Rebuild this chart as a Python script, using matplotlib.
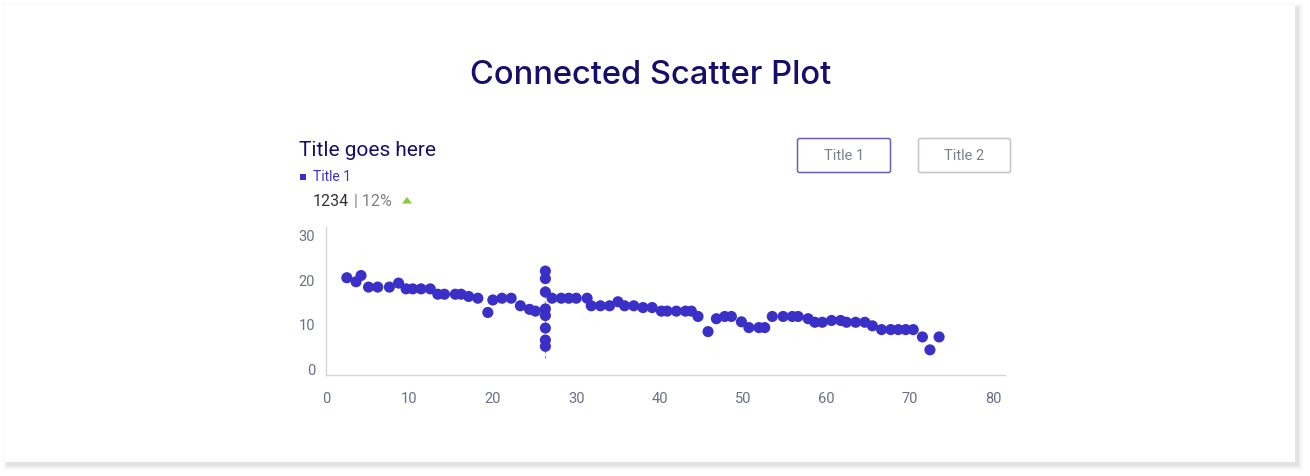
import numpy as np
import matplotlib.pyplot as plt
from matplotlib.patches import Rectangle, FancyBboxPatch, Polygon

# puntos
x_vals = [2.5, 3.6, 4.2, 5.1, 6.2, 7.6, 8.7, 9.6, 10.4, 11.4, 12.5, 13.4, 14.2, 15.5, 16.2,
          17.1, 18.2, 19.4, 20.0, 21.1, 22.2, 23.3, 24.4, 25.1,
          26.3, 26.3, 26.3, 26.3, 26.3, 26.3, 26.3, 26.3,
          27.1, 28.2, 29.1, 30.0, 31.3, 31.8, 32.9, 34.0, 35.0, 35.8, 36.9, 38.0, 39.1,
          40.2, 40.9, 42.0, 43.1, 43.8, 44.6, 45.8, 46.8, 47.8, 48.6, 49.8, 50.7, 51.9,
          52.6, 53.5, 54.8, 55.9, 56.6, 57.8, 58.6, 59.5, 60.6, 61.7, 62.4, 63.5, 64.6,
          65.5, 66.6, 67.7, 68.6, 69.5, 70.4, 71.5, 72.4, 73.5]
y_vals = [20.6, 19.7, 21.1, 18.5, 18.5, 18.5, 19.4, 18.1, 18.1, 18.1, 18.1, 16.9, 16.9, 16.9, 16.9,
          16.4, 16.0, 12.8, 15.6, 16.0, 16.0, 14.3, 13.5, 13.1,
          22.1, 20.4, 17.4, 13.6, 12.1, 9.3, 6.6, 5.2,
          16.0, 16.0, 16.0, 16.0, 16.0, 14.3, 14.3, 14.3, 15.2, 14.3, 14.3, 13.9, 13.9,
          13.1, 13.1, 13.1, 13.1, 13.1, 11.9, 8.5, 11.4, 11.9, 11.9, 10.7, 9.4, 9.4,
          9.4, 11.9, 11.9, 11.9, 11.9, 11.4, 10.6, 10.6, 11.0, 11.0, 10.6, 10.6, 10.6,
          9.8, 8.95, 8.95, 8.95, 8.95, 8.95, 7.3, 4.4, 7.3]
x_ticks = [0, 10, 20, 30, 40, 50, 60, 70, 80]
y_ticks = [0, 10, 20, 30]
hover_x = 26.3
hover_range = [2.6, 23.7]

W, H = 1310, 476
fig = plt.figure(figsize=(W / 100, H / 100), dpi=100)
fig.patch.set_facecolor('white')

# capa de fondo en pixeles para tarjeta, textos y botones
bg = fig.add_axes([0, 0, 1, 1])
bg.set_xlim(0, W)
bg.set_ylim(H, 0)
bg.axis('off')

# sombra de la tarjeta
for i, a in enumerate([0.035, 0.028, 0.02, 0.014, 0.009, 0.005]):
    d = i + 1
    bg.add_patch(Rectangle((5 - d + 3, 5 - d + 3), 1290 + 2 * d, 457 + 2 * d,
                           facecolor='black', alpha=a, edgecolor='none', zorder=0))
bg.add_patch(Rectangle((5, 5), 1290, 457, facecolor='white', edgecolor='none', zorder=1))

navy = '#150f6b'
dot = '#3a2fc6'
gris = '#6b7085'

bg.text(651, 75, 'Connected Scatter Plot', ha='center', va='center',
        fontsize=23.5, color=navy, family='Inter', weight='medium', zorder=3)
bg.text(299, 151, 'Title goes here', ha='left', va='center',
        fontsize=15, color=navy, family='Roboto', zorder=3)
bg.add_patch(Rectangle((300, 174), 6, 6, facecolor=dot, edgecolor='none', zorder=3))
bg.text(313, 177, 'Title 1', ha='left', va='center', fontsize=10,
        color=dot, family='Roboto', zorder=3)
bg.text(313, 201, '1234', ha='left', va='center', fontsize=11.5,
        color='#333333', family='Roboto', zorder=3)
bg.text(354, 201, '| 12%', ha='left', va='center', fontsize=11.5,
        color='#808080', family='Roboto', zorder=3)
bg.add_patch(Polygon([[402, 203.5], [412, 203.5], [407, 197]], closed=True,
                     facecolor='#8cc63f', edgecolor='none', zorder=3))

# botones
bg.add_patch(FancyBboxPatch((797.5, 138.5), 93, 34, boxstyle='round,pad=0,rounding_size=2',
                            facecolor='white', edgecolor='#6b5fb5', linewidth=1.1, zorder=3))
bg.text(844, 156, 'Title 1', ha='center', va='center', fontsize=10.5,
        color='#7a7f90', family='Roboto', zorder=4)
bg.add_patch(FancyBboxPatch((918.5, 138.5), 92, 34, boxstyle='round,pad=0,rounding_size=2',
                            facecolor='white', edgecolor='#c4c4cc', linewidth=1.1, zorder=3))
bg.text(964.5, 156, 'Title 2', ha='center', va='center', fontsize=10.5,
        color='#7a7f90', family='Roboto', zorder=4)

# grafico
ax = fig.add_axes([326 / W, (H - 375) / H, (1005 - 326) / W, (375 - 227) / H])
ax.set_facecolor('none')
ax.vlines(hover_x, hover_range[0], hover_range[1], colors='#999999',
          linestyles=(0, (2, 2)), linewidth=0.9, zorder=1)
ax.scatter(x_vals, y_vals, s=64, color=dot, edgecolors='none', zorder=3)
ax.set_xlim(0, 81.4)
ax.set_ylim(-1.25, 32)
ax.set_xticks(x_ticks)
ax.set_yticks(y_ticks)
for s in ['top', 'right']:
    ax.spines[s].set_visible(False)
for s in ['left', 'bottom']:
    ax.spines[s].set_color('#d6d6d6')
    ax.spines[s].set_linewidth(1)
ax.tick_params(axis='x', length=0, pad=12, labelsize=10.5, labelcolor=gris)
ax.tick_params(axis='y', length=0, pad=8, labelsize=10.5, labelcolor=gris)
for lab in ax.get_xticklabels() + ax.get_yticklabels():
    lab.set_family('Roboto')

fig.savefig('out.png', dpi=100)
